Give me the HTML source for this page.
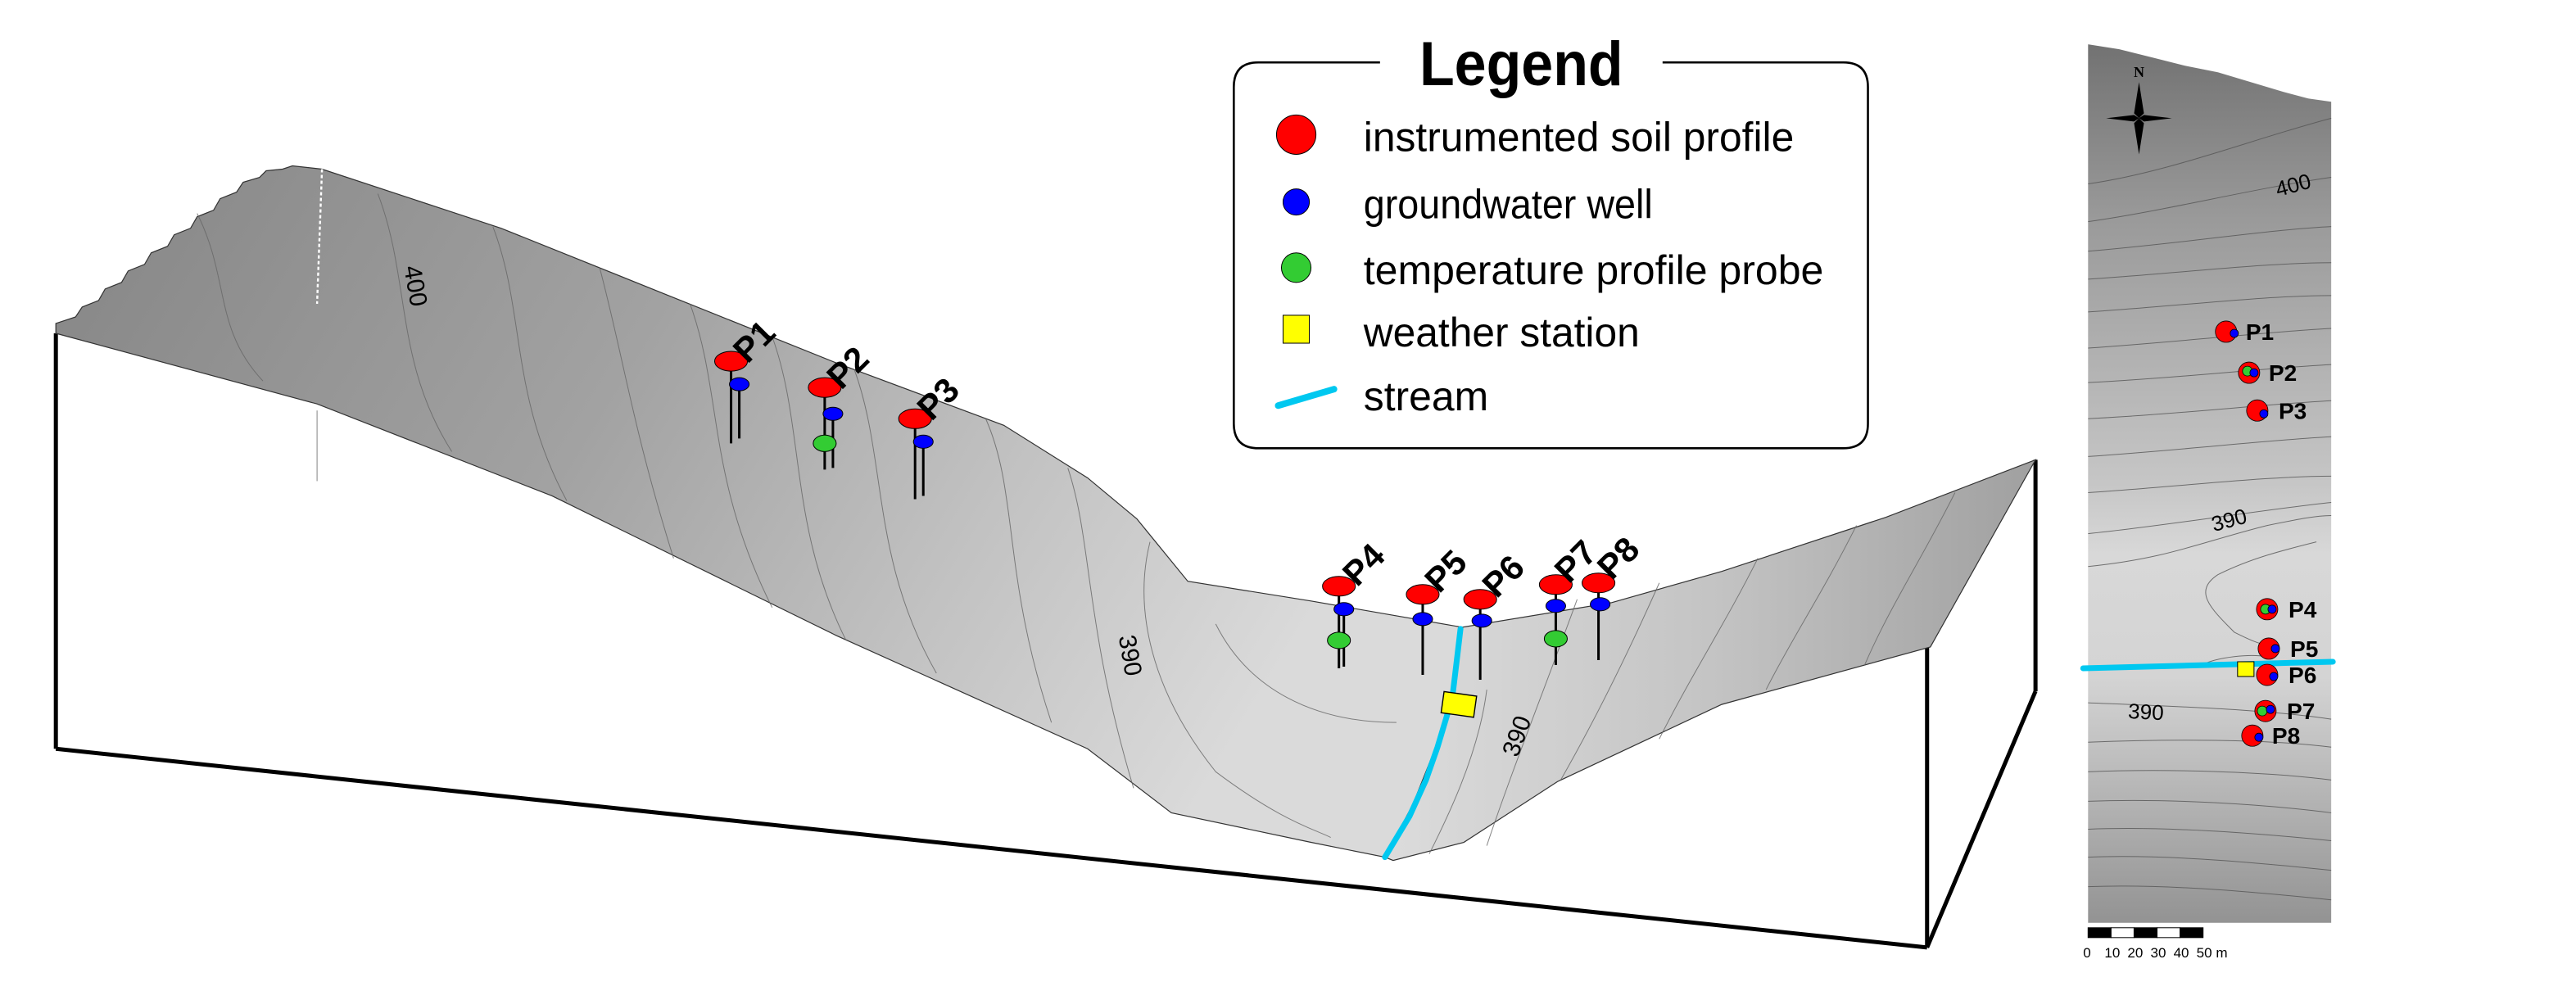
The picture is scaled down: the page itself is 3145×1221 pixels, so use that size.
<!DOCTYPE html>
<html><head><meta charset="utf-8"><style>html,body{margin:0;padding:0;background:#fff}svg{display:block}</style></head>
<body>
<svg width="3145" height="1221" viewBox="0 0 1568 609" preserveAspectRatio="none" xmlns="http://www.w3.org/2000/svg" font-family="Liberation Sans, Arial, sans-serif">
<defs>
<linearGradient id="sl" x1="0" y1="0" x2="1" y2="0.3">
<stop offset="0" stop-color="#858585"/><stop offset="0.45" stop-color="#a2a2a2"/><stop offset="0.75" stop-color="#c2c2c2"/><stop offset="1" stop-color="#dadada"/></linearGradient>
<linearGradient id="sr" x1="0" y1="0" x2="1" y2="0">
<stop offset="0" stop-color="#dcdcdc"/><stop offset="0.5" stop-color="#c4c4c4"/><stop offset="1" stop-color="#a0a0a0"/></linearGradient>
<linearGradient id="mp" x1="0" y1="0" x2="0" y2="1">
<stop offset="0" stop-color="#727272"/><stop offset="0.2" stop-color="#9a9a9a"/><stop offset="0.5" stop-color="#c6c6c6"/><stop offset="0.58" stop-color="#d8d8d8"/><stop offset="0.72" stop-color="#d4d4d4"/><stop offset="1" stop-color="#939393"/></linearGradient>
</defs>

<!-- box -->
<g stroke="#000" stroke-width="2.5" fill="none">
<line x1="34" y1="203" x2="34" y2="456"/>
<line x1="34" y1="456" x2="1173" y2="577"/>
<line x1="1173" y1="577" x2="1173" y2="394"/>
<line x1="1173" y1="577" x2="1239" y2="421"/>
<line x1="1239" y1="421" x2="1239" y2="280"/>
</g>

<!-- surface left part -->
<path d="M34,203 L34,197 L46,193 L50,187 L60,183 L64,176 L74,172 L78,165 L88,161 L92,154 L102,150 L106,143 L116,139 L120,132 L130,128 L134,121 L144,117 L148,111 L158,108 L162,104 L172,103 L178,101 L196,103 L305,139 L407,180 L509,221 L611,259 L662,291 L692,316 L723,354 L798,366 L890,382 L888,400 L880,440 L860,490 L843,522 L798,513 L713,495 L662,456 L509,387 L336,302 L193,246 Z" fill="url(#sl)" stroke="#333" stroke-width="0.6"/>
<!-- surface right part -->
<path d="M890,382 L981,367 L1048,348 L1148,315 L1239,280 L1175,394 L1048,429 L948,476 L891,513 L848,524 L843,522 L860,490 L880,440 Z" fill="url(#sr)" stroke="#333" stroke-width="0.6"/>
<!-- contour lines -->
<g stroke="#666" stroke-width="0.5" fill="none" opacity="0.8">
<path d="M120,130 C140,170 130,200 160,232"/>
<path d="M230,118 C250,170 240,220 275,275"/>
<path d="M300,138 C320,190 310,240 345,305"/>
<path d="M365,163 C380,220 385,260 410,340"/>
<path d="M420,185 C440,240 430,290 470,370"/>
<path d="M470,205 C490,260 480,320 515,390"/>
<path d="M520,225 C540,280 530,340 570,410"/>
<path d="M600,255 C620,300 610,350 640,440"/>
<path d="M650,285 C665,330 660,380 690,480"/>
<path d="M700,330 C690,370 700,420 740,470 C780,500 800,505 810,510"/>
<path d="M740,380 C760,420 800,440 850,440"/>
<path d="M905,420 C900,460 880,500 870,520"/>
<path d="M960,365 C940,420 920,470 905,515"/>
<path d="M1010,355 C990,400 970,440 950,475"/>
<path d="M1070,340 C1050,380 1030,410 1010,450"/>
<path d="M1130,320 C1110,360 1090,390 1075,420"/>
<path d="M1190,300 C1170,340 1150,370 1135,405"/>
</g>
<line x1="196" y1="103" x2="193" y2="185" stroke="#fff" stroke-width="1.2" stroke-dasharray="2,1.5"/>
<line x1="193" y1="250" x2="193" y2="293" stroke="#999" stroke-width="0.6"/>
<text x="0" y="0" font-size="15" transform="translate(248,175) rotate(80)" text-anchor="middle">400</text>
<text x="0" y="0" font-size="15" transform="translate(683,400) rotate(80)" text-anchor="middle">390</text>
<text x="0" y="0" font-size="15" transform="translate(928,450) rotate(-70)" text-anchor="middle">390</text>

<!-- stream 3d -->
<path d="M889,383 L887,400 L884,425 L875,455 L868,475 L858,497 L843,522" stroke="#00c8f0" stroke-width="3.5" fill="none" stroke-linecap="round"/>
<rect x="-10" y="-6.5" width="20" height="13" fill="#ff0" stroke="#000" stroke-width="0.7" transform="translate(888,429) rotate(8)"/>

<!-- 3D markers -->
<g stroke="#000" stroke-width="1.5">
<line x1="445" y1="220" x2="445" y2="270"/><line x1="450" y1="234" x2="450" y2="267"/>
<line x1="502" y1="236" x2="502" y2="286"/><line x1="507" y1="252" x2="507" y2="285"/>
<line x1="557" y1="255" x2="557" y2="304"/><line x1="562" y1="269" x2="562" y2="302"/>
<line x1="815" y1="357" x2="815" y2="407"/><line x1="818" y1="371" x2="818" y2="406"/>
<line x1="866" y1="362" x2="866" y2="411"/>
<line x1="901" y1="365" x2="901" y2="414"/>
<line x1="947" y1="356" x2="947" y2="405"/>
<line x1="973" y1="355" x2="973" y2="402"/>
</g>
<g stroke="#000" stroke-width="0.5">
<g fill="#f00">
<ellipse cx="445" cy="220" rx="10" ry="6"/><ellipse cx="502" cy="236" rx="10" ry="6"/><ellipse cx="557" cy="255" rx="10" ry="6"/>
<ellipse cx="815" cy="357" rx="10" ry="6"/><ellipse cx="866" cy="362" rx="10" ry="6"/><ellipse cx="901" cy="365" rx="10" ry="6"/><ellipse cx="947" cy="356" rx="10" ry="6"/><ellipse cx="973" cy="355" rx="10" ry="6"/></g>
<g fill="#00f">
<ellipse cx="450" cy="234" rx="6" ry="4"/><ellipse cx="507" cy="252" rx="6" ry="4"/><ellipse cx="562" cy="269" rx="6" ry="4"/>
<ellipse cx="818" cy="371" rx="6" ry="4"/><ellipse cx="866" cy="377" rx="6" ry="4"/><ellipse cx="902" cy="378" rx="6" ry="4"/><ellipse cx="947" cy="369" rx="6" ry="4"/><ellipse cx="974" cy="368" rx="6" ry="4"/></g>
<g fill="#33cc33">
<ellipse cx="502" cy="270" rx="7" ry="5"/><ellipse cx="815" cy="390" rx="7" ry="5"/><ellipse cx="947" cy="389" rx="7" ry="5"/></g>
</g>
<g font-size="21" font-weight="bold">
<text transform="translate(455,222) rotate(-45)">P1</text>
<text transform="translate(512,238) rotate(-45)">P2</text>
<text transform="translate(567,257) rotate(-45)">P3</text>
<text transform="translate(826,358) rotate(-45)">P4</text>
<text transform="translate(876,362) rotate(-45)">P5</text>
<text transform="translate(911,365) rotate(-45)">P6</text>
<text transform="translate(955,356) rotate(-45)">P7</text>
<text transform="translate(981,354) rotate(-45)">P8</text>
</g>

<!-- legend -->
<path d="M840,38 L766,38 Q751,38 751,53 L751,258 Q751,273 766,273 L1122,273 Q1137,273 1137,258 L1137,53 Q1137,38 1122,38 L1012,38" fill="#fff" stroke="#000" stroke-width="1.3"/>
<text x="926" y="52" font-size="38" font-weight="bold" text-anchor="middle" textLength="124" lengthAdjust="spacingAndGlyphs">Legend</text>
<ellipse cx="789" cy="82" rx="12" ry="12" fill="#f00" stroke="#000" stroke-width="0.5"/>
<ellipse cx="789" cy="123" rx="8" ry="8" fill="#00f" stroke="#000" stroke-width="0.5"/>
<ellipse cx="789" cy="163" rx="9" ry="9" fill="#33cc33" stroke="#000" stroke-width="0.5"/>
<rect x="781" y="192" width="16" height="17" fill="#ff0" stroke="#000" stroke-width="0.5"/>
<line x1="778" y1="247" x2="812" y2="237" stroke="#00c8f0" stroke-width="4" stroke-linecap="round"/>
<g font-size="25">
<text x="830" y="92" textLength="262" lengthAdjust="spacingAndGlyphs">instrumented soil profile</text>
<text x="830" y="133" textLength="176" lengthAdjust="spacingAndGlyphs">groundwater well</text>
<text x="830" y="173" textLength="280" lengthAdjust="spacingAndGlyphs">temperature profile probe</text>
<text x="830" y="211" textLength="168" lengthAdjust="spacingAndGlyphs">weather station</text>
<text x="830" y="250" textLength="76" lengthAdjust="spacingAndGlyphs">stream</text>
</g>

<!-- map -->
<path d="M1271,27 L1290,30 L1310,35 L1330,40 L1350,44 L1370,50 L1390,56 L1405,60 L1419,62 L1419,562 L1271,562 Z" fill="url(#mp)"/>
<g stroke="#555" stroke-width="0.5" fill="none" opacity="0.8">
<path d="M1271,112 C1320,105 1370,85 1419,72"/>
<path d="M1271,135 C1320,128 1370,115 1419,108"/>
<path d="M1271,153 C1330,148 1380,140 1419,138"/>
<path d="M1271,170 C1330,166 1380,160 1419,160"/>
<path d="M1271,190 C1330,186 1380,180 1419,180"/>
<path d="M1271,212 C1330,208 1380,202 1419,200"/>
<path d="M1271,233 C1330,230 1380,224 1419,222"/>
<path d="M1271,255 C1330,252 1380,246 1419,244"/>
<path d="M1271,278 C1330,274 1380,268 1419,266"/>
<path d="M1271,300 C1330,296 1380,290 1419,290"/>
<path d="M1271,325 C1320,320 1380,310 1419,306"/>
<path d="M1271,345 C1320,340 1340,330 1380,320 C1400,316 1410,314 1419,314"/>
<path d="M1340,405 C1350,400 1370,398 1380,400"/>
<path d="M1410,330 C1390,335 1370,340 1350,350 C1335,360 1345,370 1360,385 C1370,390 1375,392 1380,393"/>
<path d="M1271,428 C1320,430 1380,432 1419,438"/>
<path d="M1271,452 C1320,450 1380,450 1419,455"/>
<path d="M1271,470 C1320,468 1380,470 1419,475"/>
<path d="M1271,488 C1320,486 1380,490 1419,495"/>
<path d="M1271,505 C1320,503 1380,508 1419,512"/>
<path d="M1271,522 C1320,520 1380,526 1419,530"/>
<path d="M1271,540 C1320,538 1380,544 1419,548"/>
</g>
<text font-size="13" transform="translate(1397,117) rotate(-15)" text-anchor="middle">400</text>
<text font-size="13" transform="translate(1358,321) rotate(-15)" text-anchor="middle">390</text>
<text font-size="13" transform="translate(1306,438) rotate(3)" text-anchor="middle">390</text>
<!-- compass -->
<g transform="translate(1302,72)">
<polygon points="0,-22 3,-3 0,0 -3,-3" fill="#000"/>
<polygon points="0,22 3,3 0,0 -3,3" fill="#000"/>
<polygon points="-20,0 -3,-2 0,0 -3,2" fill="#000"/>
<polygon points="20,0 3,-2 0,0 3,2" fill="#000"/>
<text x="0" y="-25" font-size="9" font-family="Liberation Serif, serif" font-weight="bold" text-anchor="middle">N</text>
</g>
<line x1="1268" y1="407" x2="1420" y2="403" stroke="#00c8f0" stroke-width="3.5" stroke-linecap="round"/>
<rect x="1362" y="403" width="10" height="9" fill="#ff0" stroke="#000" stroke-width="0.5"/>
<g stroke="#000" stroke-width="0.4">
<g fill="#f00">
<circle cx="1355" cy="202" r="6.5"/><circle cx="1369" cy="227" r="6.5"/><circle cx="1374" cy="250" r="6.5"/>
<circle cx="1380" cy="371" r="6.5"/><circle cx="1381" cy="395" r="6.5"/><circle cx="1380" cy="411" r="6.5"/><circle cx="1379" cy="433" r="6.5"/><circle cx="1371" cy="448" r="6.5"/></g>
<g fill="#33cc33"><circle cx="1368" cy="226" r="3"/><circle cx="1379" cy="371" r="3"/><circle cx="1377" cy="433" r="3"/></g>
<g fill="#00f"><circle cx="1360" cy="203" r="2.5"/><circle cx="1372" cy="227" r="2.5"/><circle cx="1378" cy="252" r="2.5"/><circle cx="1383" cy="371" r="2.5"/><circle cx="1385" cy="395" r="2.5"/><circle cx="1384" cy="412" r="2.5"/><circle cx="1382" cy="432" r="2.5"/><circle cx="1375" cy="449" r="2.5"/></g>
</g>
<g font-size="14" font-weight="bold">
<text x="1367" y="207">P1</text><text x="1381" y="232">P2</text><text x="1387" y="255">P3</text>
<text x="1393" y="376">P4</text><text x="1394" y="400">P5</text><text x="1393" y="416">P6</text><text x="1392" y="438">P7</text><text x="1383" y="453">P8</text>
</g>
<!-- scale bar -->
<g stroke="#000" stroke-width="0.5">
<rect x="1271" y="565" width="14" height="6" fill="#000"/><rect x="1285" y="565" width="14" height="6" fill="#fff"/><rect x="1299" y="565" width="14" height="6" fill="#000"/><rect x="1313" y="565" width="14" height="6" fill="#fff"/><rect x="1327" y="565" width="14" height="6" fill="#000"/>
</g>
<g font-size="8.5">
<text x="1268" y="583">0</text><text x="1281" y="583">10</text><text x="1295" y="583">20</text><text x="1309" y="583">30</text><text x="1323" y="583">40</text><text x="1337" y="583">50 m</text>
</g>
</svg>
</body></html>
